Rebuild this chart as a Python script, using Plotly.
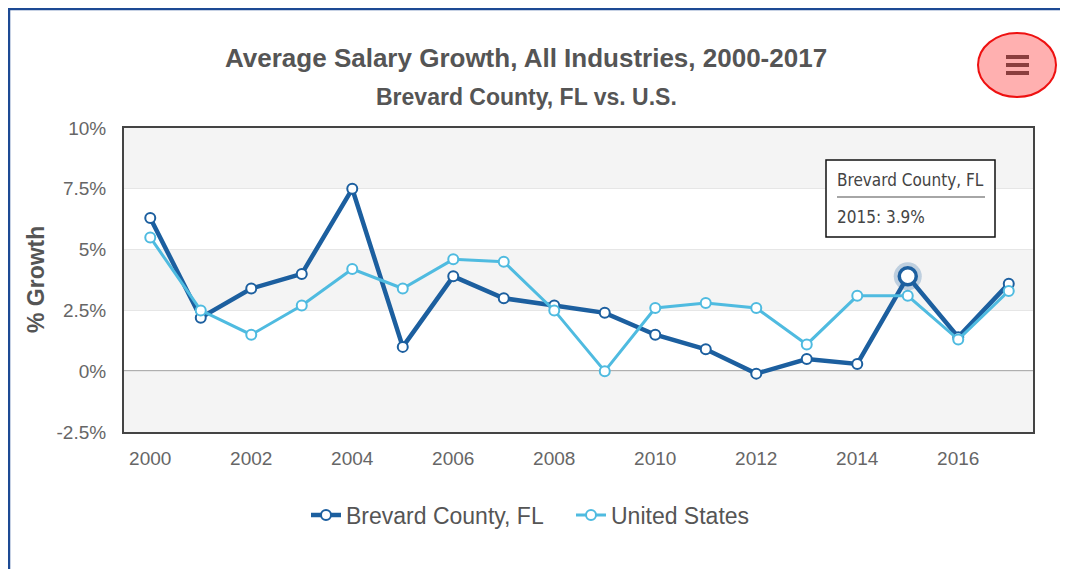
import plotly.graph_objects as go

years = list(range(2000, 2018))
brevard = [6.3, 2.2, 3.4, 4.0, 7.5, 1.0, 3.9, 3.0, 2.7, 2.4, 1.5, 0.9, -0.1, 0.5, 0.3, 3.9, 1.4, 3.6]
united_states = [5.5, 2.5, 1.5, 2.7, 4.2, 3.4, 4.6, 4.5, 2.5, 0.0, 2.6, 2.8, 2.6, 1.1, 3.1, 3.1, 1.3, 3.3]
y_ticks = [-2.5, 0, 2.5, 5, 7.5, 10]
y_tick_labels = ["-2.5%", "0%", "2.5%", "5%", "7.5%", "10%"]
x_ticks = [2000, 2002, 2004, 2006, 2008, 2010, 2012, 2014, 2016]
title = "Average Salary Growth, All Industries, 2000-2017"
subtitle = "Brevard County, FL vs. U.S."
hover_index = 15

# the page body has an 8px margin; figure is sized to fill the rest of the window
OFF = 8
W, H = 1068 - OFF, 569 - OFF
# plot area in screen pixels
L, R, T, B = 124, 1033, 128, 432


def px(x):
    return (x - L) / (R - L)


def py(y):
    return (B - y) / (B - T)


DARK = "#1c5f9f"
LIGHT = "#4fbbe0"
FONT = "Liberation Sans, Arial, sans-serif"
TIPFONT = "DejaVu Sans Condensed, DejaVu Sans"

fig = go.Figure()

fig.add_trace(go.Scatter(
    x=years, y=brevard, name="Brevard County, FL", mode="lines+markers",
    line=dict(color=DARK, width=4.5),
    marker=dict(symbol="circle", size=10, color="white", line=dict(color=DARK, width=2)),
))
fig.add_trace(go.Scatter(
    x=years, y=united_states, name="United States", mode="lines+markers",
    line=dict(color=LIGHT, width=3),
    marker=dict(symbol="circle", size=10, color="white", line=dict(color=LIGHT, width=2)),
))
# hover halo + hovered point
fig.add_trace(go.Scatter(
    x=[years[hover_index]], y=[brevard[hover_index]], mode="markers", showlegend=False,
    marker=dict(size=28, color="rgba(28,95,159,0.25)", line=dict(width=0)),
    hoverinfo="skip",
))
fig.add_trace(go.Scatter(
    x=[years[hover_index]], y=[brevard[hover_index]], mode="markers", showlegend=False,
    marker=dict(size=17, color="white", line=dict(color=DARK, width=3.5)),
    hoverinfo="skip",
))

shapes = []
for y0, y1 in [(7.5, 10), (2.5, 5), (-2.5, 0)]:
    shapes.append(dict(type="rect", xref="paper", yref="y", x0=0, x1=1, y0=y0, y1=y1,
                       fillcolor="#f4f4f4", line=dict(width=0), layer="below"))
shapes.append(dict(type="line", xref="paper", yref="y", x0=0, x1=1, y0=0, y1=0,
                   line=dict(color="#606060", width=1.5), layer="below"))
# outer border (left & top)
shapes.append(dict(type="path", xref="paper", yref="paper",
                   path=f"M {px(9)} {py(575)} L {px(9)} {py(9)} L {px(1075)} {py(9)}",
                   line=dict(color="#1d4a94", width=2.5)))
# tooltip box
shapes.append(dict(type="rect", xref="paper", yref="paper",
                   x0=px(826), x1=px(995), y0=py(237), y1=py(160),
                   fillcolor="white", line=dict(color="#111", width=1.5)))
shapes.append(dict(type="line", xref="paper", yref="paper",
                   x0=px(837), x1=px(985), y0=py(197), y1=py(197),
                   line=dict(color="#888", width=1.5)))
# menu button
shapes.append(dict(type="circle", xref="paper", yref="paper",
                   x0=px(978), x1=px(1056), y0=py(97), y1=py(33),
                   fillcolor="#ffb0b0", line=dict(color="#ee1111", width=2)))
for yy in [57, 65, 73]:
    shapes.append(dict(type="line", xref="paper", yref="paper",
                       x0=px(1006), x1=px(1029), y0=py(yy), y1=py(yy),
                       line=dict(color="#8a3e3e", width=4)))

annotations = [
    dict(text=f"<b>{title}</b>", x=px(526), y=py(58), xref="paper", yref="paper",
         showarrow=False, font=dict(size=26, color="#555555", family=FONT), xanchor="center", yanchor="middle"),
    dict(text=f"<b>{subtitle}</b>", x=px(526), y=py(97), xref="paper", yref="paper",
         showarrow=False, font=dict(size=23, color="#555555", family=FONT), xanchor="center", yanchor="middle"),
    dict(text="<b>% Growth</b>", x=px(36), y=py(280), xref="paper", yref="paper", textangle=-90,
         showarrow=False, font=dict(size=23, color="#555555", family=FONT), xanchor="center", yanchor="middle"),
    dict(text="Brevard County, FL", x=px(835), y=py(180), xref="paper", yref="paper",
         showarrow=False, font=dict(size=17, color="#444444", family=TIPFONT),
         xanchor="left", yanchor="middle"),
    dict(text=f"{years[hover_index]}: {brevard[hover_index]}%", x=px(835), y=py(217), xref="paper", yref="paper",
         showarrow=False, font=dict(size=17, color="#444444", family=TIPFONT),
         xanchor="left", yanchor="middle"),
]

fig.update_layout(
    width=W, height=H,
    margin=dict(l=L - OFF, r=1068 - R, t=T - OFF, b=569 - B, pad=0),
    paper_bgcolor="white", plot_bgcolor="white",
    font=dict(family=FONT, color="#666666"),
    showlegend=True,
    legend=dict(orientation="h", x=px(571), xanchor="center", y=py(515), yanchor="middle",
                font=dict(size=23, color="#555555", family=FONT), itemwidth=30,
                entrywidth=220, entrywidthmode="pixels",
                bgcolor="rgba(0,0,0,0)"),
    xaxis=dict(range=[1999.48, 2017.48], tickmode="array", tickvals=x_ticks,
               ticktext=[str(v) for v in x_ticks], showgrid=False, zeroline=False,
               showline=True, mirror=True, linecolor="#444444", linewidth=2,
               ticks="", tickfont=dict(size=19, color="#666666"), ticklabelstandoff=8),
    yaxis=dict(range=[-2.5, 10], tickmode="array", tickvals=y_ticks, ticktext=y_tick_labels,
               showgrid=True, gridcolor="#e6e6e6", gridwidth=1, zeroline=False,
               showline=True, mirror=True, linecolor="#444444", linewidth=2,
               ticks="", tickfont=dict(size=19, color="#666666"), ticklabelstandoff=12),
    shapes=shapes,
    annotations=annotations,
)

fig.write_html("out.html")
